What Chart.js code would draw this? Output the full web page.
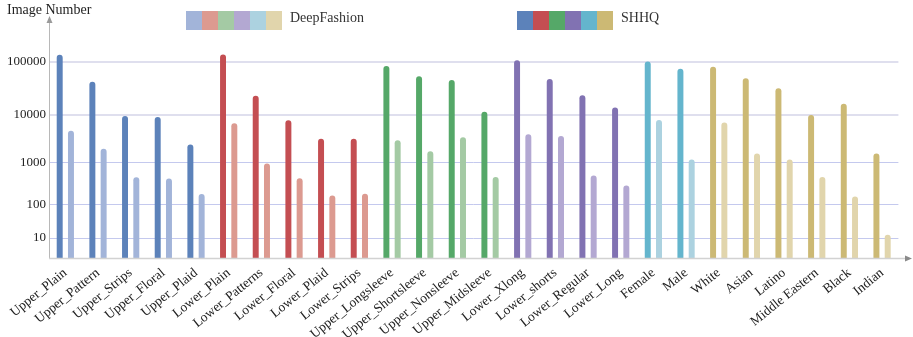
<!DOCTYPE html>
<html>
<head>
<meta charset="utf-8">
<script src="https://cdn.jsdelivr.net/npm/chart.js@4/dist/chart.umd.min.js"></script>
<style>
  html, body { margin: 0; padding: 0; background: #ffffff; }
  #wrap { width: 913px; height: 337px; }
</style>
</head>
<body>
<div id="wrap"><canvas id="chart" width="913" height="337"></canvas></div>
<script>
// Attribute categories
const categories = [
  'Upper_Plain', 'Upper_Pattern', 'Upper_Strips', 'Upper_Floral', 'Upper_Plaid',
  'Lower_Plain', 'Lower_Patterns', 'Lower_Floral', 'Lower_Plaid', 'Lower_Strips',
  'Upper_Longsleeve', 'Upper_Shortsleeve', 'Upper_Nonsleeve', 'Upper_Midsleeve',
  'Lower_Xlong', 'Lower_shorts', 'Lower_Regular', 'Lower_Long',
  'Female', 'Male',
  'White', 'Asian', 'Latino', 'Middle Eastern', 'Black', 'Indian'
];

// Colour group of each category
const groupOf = [0, 0, 0, 0, 0, 1, 1, 1, 1, 1, 2, 2, 2, 2, 3, 3, 3, 3, 4, 4, 5, 5, 5, 5, 5, 5];

// Image counts per dataset
const shhqCounts = [
  132000, 43000, 9500, 9100, 2500,
  134000, 23500, 7800, 3300, 3300,
  83000, 54000, 46000, 11500,
  105000, 48000, 24000, 14000,
  100000, 74000,
  81000, 50000, 32500, 10000, 16500, 1600
];
const deepFashionCounts = [
  4800, 2040, 470, 440, 185,
  6800, 970, 445, 170, 190,
  3060, 1800, 3550, 480,
  4100, 3780, 520, 300,
  7950, 1190,
  7100, 1600, 1190, 480, 160, 13
];

// Value axis ticks
const yTicks = [10, 100, 1000, 10000, 100000];
const yMax = 240000;

const darkColors = ['#5c82ba', '#c44e52', '#55a868', '#8172b2', '#64b5cd', '#ccb974'];
const lightColors = ['#a2b4d9', '#dc9a90', '#a4caa4', '#b3a8d2', '#acd2e0', '#e1d5ac'];

const SERIF = '"Liberation Serif", "DejaVu Serif", serif';

// Log-power value scale: position grows as (log10 v)^p
class LogPowerScale extends Chart.Scale {
  static id = 'logpower';
  static defaults = {};
  determineDataLimits() {
    this.min = 1;
    this.max = yMax;
  }
  buildTicks() {
    return yTicks.map(v => ({ value: v }));
  }
  getLabelForValue(v) { return String(v); }
  _g(v) {
    const k = Math.log10(Math.max(v, 1));
    return Math.pow(k, 1.42);
  }
  configure() {
    super.configure();
    this._gMax = this._g(this.max);
  }
  getPixelForValue(v) {
    return this.getPixelForDecimal(this._g(v) / this._gMax);
  }
  getValueForPixel(p) {
    const d = this.getDecimalForPixel(p);
    return Math.pow(10, Math.pow(Math.max(d, 0) * this._gMax, 1 / 1.42));
  }
}
Chart.register(LogPowerScale);

// Axis arrows, axis title and the two swatch legends
const decorations = {
  id: 'decorations',
  afterDraw(chart) {
    const { ctx, chartArea: a } = chart;
    ctx.save();
    const x0 = a.left + 0.5;
    const y0 = a.bottom + 0.5;

    // y axis with arrow
    ctx.strokeStyle = '#b8b8b8';
    ctx.lineWidth = 1;
    ctx.beginPath();
    ctx.moveTo(x0, y0);
    ctx.lineTo(x0, 22);
    ctx.stroke();
    ctx.fillStyle = '#9a9a9a';
    ctx.beginPath();
    ctx.moveTo(x0, 16);
    ctx.lineTo(x0 - 3, 23);
    ctx.lineTo(x0 + 3, 23);
    ctx.closePath();
    ctx.fill();

    // x axis with arrow
    ctx.strokeStyle = '#d2d2d2';
    ctx.lineWidth = 1.5;
    ctx.beginPath();
    ctx.moveTo(a.left, y0);
    ctx.lineTo(905, y0);
    ctx.stroke();
    ctx.fillStyle = '#8a8a8a';
    ctx.beginPath();
    ctx.moveTo(912, y0);
    ctx.lineTo(905, y0 - 3);
    ctx.lineTo(905, y0 + 3);
    ctx.closePath();
    ctx.fill();

    // axis title
    ctx.fillStyle = '#222';
    ctx.font = '14px ' + SERIF;
    ctx.textAlign = 'left';
    ctx.textBaseline = 'alphabetic';
    ctx.fillText('Image Number', 7, 14);

    // legends
    const drawLegend = (x, colors, label) => {
      colors.forEach((c, i) => {
        ctx.fillStyle = c;
        ctx.fillRect(x + i * 16, 11, 16, 19);
      });
      ctx.fillStyle = '#333';
      ctx.font = '14px ' + SERIF;
      ctx.textBaseline = 'middle';
      ctx.fillText(label, x + 6 * 16 + 8, 18);
    };
    drawLegend(186, lightColors, 'DeepFashion');
    drawLegend(517, darkColors, 'SHHQ');
    ctx.restore();
  }
};

new Chart(document.getElementById('chart'), {
  type: 'bar',
  data: {
    labels: categories,
    datasets: [
      {
        label: 'SHHQ',
        data: shhqCounts,
        backgroundColor: groupOf.map(g => darkColors[g]),
        borderRadius: { topLeft: 3, topRight: 3 },
        borderSkipped: 'bottom'
      },
      {
        label: 'DeepFashion',
        data: deepFashionCounts,
        backgroundColor: groupOf.map(g => lightColors[g]),
        borderRadius: { topLeft: 3, topRight: 3 },
        borderSkipped: 'bottom'
      }
    ]
  },
  options: {
    responsive: false,
    animation: false,
    devicePixelRatio: 1,
    categoryPercentage: 0.69,
    barPercentage: 0.53,
    layout: { padding: { left: 0, right: 14.6, top: 40, bottom: 0 } },
    plugins: {
      legend: { display: false },
      tooltip: { enabled: false },
      title: { display: false }
    },
    scales: {
      x: {
        type: 'category',
        grid: { display: false, drawTicks: false },
        border: { display: false },
        ticks: {
          autoSkip: false,
          minRotation: 39,
          maxRotation: 39,
          padding: 7,
          color: '#222',
          font: { family: SERIF, size: 13.5 }
        },
        afterFit(scale) { scale.height = 79; }
      },
      y: {
        type: 'logpower',
        position: 'left',
        grid: {
          drawTicks: false,
          color: ctx => (ctx.tick && ctx.tick.value >= 10000) ? 'rgba(212,212,232,0.75)' : '#c4c9ee',
          lineWidth: ctx => (ctx.tick && ctx.tick.value >= 10000) ? 2 : 1
        },
        border: { display: false },
        ticks: {
          padding: 3,
          color: '#222',
          font: { family: SERIF, size: 13 }
        },
        afterFit(scale) { scale.width = 49; }
      }
    }
  },
  plugins: [decorations]
});
</script>
</body>
</html>
